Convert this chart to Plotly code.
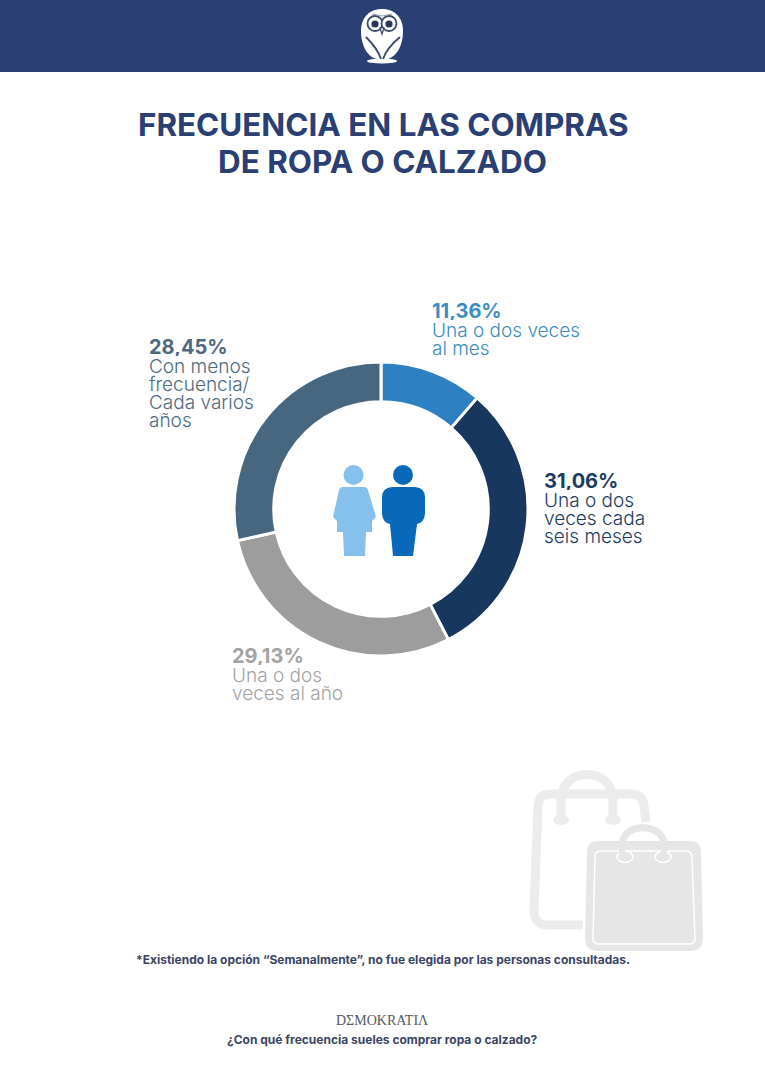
import plotly.graph_objects as go

# Survey results
categories = ["Una o dos veces al mes", "Una o dos veces cada seis meses",
              "Una o dos veces al año", "Con menos frecuencia/Cada varios años"]
shares = [11.36, 31.06, 29.13, 28.45]
slice_colors = ["#2d80c2", "#17375e", "#9d9d9d", "#46677f"]
value_colors = ["#3c8dc0", "#1d3a5f", "#a3a3a3", "#4d6a7f"]
label_lines = [["Una o dos veces", "al mes"],
               ["Una o dos", "veces cada", "seis meses"],
               ["Una o dos", "veces al año"],
               ["Con menos", "frecuencia/", "Cada varios", "años"]]
value_labels = ["11,36%", "31,06%", "29,13%", "28,45%"]

title_lines = ["FRECUENCIA EN LAS COMPRAS", "DE ROPA O CALZADO"]
footnote = "*Existiendo la opción “Semanalmente”, no fue elegida por las personas consultadas."
brand = "DΣMOKRATIΛ"
question = "¿Con qué frecuencia sueles comprar ropa o calzado?"

W, H = 765, 1080
NAVY = "#2a4075"
FONT = "Inter"
CX, CY, R = 381, 509, 147

fig = go.Figure()
fig.add_trace(go.Pie(
    labels=categories, values=shares, sort=False, direction="clockwise", rotation=0,
    hole=0.73, textinfo="none", hoverinfo="label+percent", showlegend=False,
    marker=dict(colors=slice_colors, line=dict(color="white", width=3)),
    domain=dict(x=[(CX - R) / W, (CX + R) / W], y=[1 - (CY + R) / H, 1 - (CY - R) / H]),
))

shapes = []


def path(d, fill="rgba(0,0,0,0)", line=None, width=0):
    shapes.append(dict(type="path", path=d, fillcolor=fill, xref="x", yref="y", layer="above",
                       line=dict(color=line or "rgba(0,0,0,0)", width=width)))


def circle(x, y, rx, ry=None, fill="white", line=None, width=0):
    ry = ry or rx
    shapes.append(dict(type="circle", x0=x - rx, x1=x + rx, y0=y - ry, y1=y + ry, fillcolor=fill,
                       xref="x", yref="y", layer="above",
                       line=dict(color=line or "rgba(0,0,0,0)", width=width)))


# Header band
shapes.append(dict(type="rect", x0=0, x1=W, y0=0, y1=72, xref="x", yref="y", layer="below",
                   fillcolor=NAVY, line=dict(width=0)))

# Owl emblem
path("M382,9 C393,9 403,16 403,31 C403,46 396,60 382,60 C368,60 361,46 361,31 C361,16 371,9 382,9 Z", fill="white")
circle(382, 61, 15, 2.5)
circle(375, 23.5, 7.5, fill="white", line="#3b4a6b", width=1.8)
circle(389, 23.5, 7.5, fill="white", line="#3b4a6b", width=1.8)
circle(375, 24, 3.6, fill="#26375f")
circle(389, 24, 3.6, fill="#26375f")
path("M366,37 C371,42 378,50 381,59", line="#3b4a6b", width=1.8)
path("M400,37 C394,42 386,50 383,59", line="#3b4a6b", width=1.8)
path("M380,28 L384,28 L382,34 Z", fill="white", line="#3b4a6b", width=1.2)
path("M372,14 L382,16 L392,14", line="#9aa3b8", width=1.2)

# Woman and man in the middle of the ring
circle(353.5, 475, 10, fill="#85c1ec")
path("M343,487 L364,487 Q367,487 368,490 L376,517 L372,521 L372,532 L366,532 L365,556 L344,556 "
     "L343,532 L337,532 L337,521 L333,517 L339,490 Q340,487 343,487 Z", fill="#85c1ec")
circle(403, 475, 10, fill="#0869ba")
path("M392,487 L415,487 Q425,488 425,497 L425,514 Q424,523 417,524 L413,556 L393,556 L390,524 "
     "Q383,523 382,514 L382,497 Q382,488 392,487 Z", fill="#0869ba")

# Shopping bags watermark
BAG = "#ececec"
path("M561,818 L561,800 C561,766 613,766 613,800 L613,818", line=BAG, width=9)
circle(561, 820, 8, 5, fill=BAG)
circle(613, 820, 8, 5, fill=BAG)
path("M646,822 L644,806 Q643,794 630,794 L550,794 Q539,794 538,806 L534,910 Q534,925 548,925 L583,925",
     line=BAG, width=9)
path("M622,850 L622,845 C622,822 664,822 664,845 L664,850", line="#e6e6e6", width=7)
path("M598,841 L690,841 Q701,841 701,852 L703,938 Q703,951 690,951 L598,951 Q585,951 585,938 "
     "L587,852 Q587,841 598,841 Z", fill="#e6e6e6")
path("M600,851 L686,851 Q692,851 692,857 L695,938 Q695,944 689,944 L599,944 Q593,944 593,938 "
     "L595,857 Q595,851 600,851 Z", fill="#e6e6e6", line="white", width=1.5)
circle(625, 857, 8, 5.5, fill="#e6e6e6", line="white", width=1.5)
circle(663, 857, 8, 5.5, fill="#e6e6e6", line="white", width=1.5)
path("M622,857 L622,845 C622,822 664,822 664,845 L664,857", line="#e6e6e6", width=6)

annotations = []


def text(x, y, s, size, color, anchor="left", family=FONT, weight=None, box=None):
    font = dict(family=family, size=size, color=color)
    if weight:
        font["weight"] = weight
    item = dict(x=x, y=y, xref="x", yref="y", text=s, showarrow=False, xanchor=anchor,
                yanchor="middle", align=anchor, borderpad=0, font=font)
    if box:
        item["height"] = box
    annotations.append(item)


# Title
text(382.5, 125, f"<b>{title_lines[0]}</b>", 31.4, NAVY, "center")
text(382.5, 162, f"<b>{title_lines[1]}</b>", 31.4, NAVY, "center")

# Value labels beside each slice: column x, first line y
label_x = [431, 543, 231, 148]
label_y = [311, 481, 656, 347]
for vx, vy, value, lines, col in zip(label_x, label_y, value_labels, label_lines, value_colors):
    text(vx, vy, f"<b>{value}</b>", 20, col, box=18)
    for i, line in enumerate(lines):
        text(vx, vy + 18.5 + 18 * i, line, 19, col, weight=300, box=18)

# Footer
text(382.5, 959, f"<b>{footnote}</b>", 12, "#3a4566", "center")
text(382.5, 1020, brand, 14, "#555a66", "center", "Liberation Serif")
text(382.5, 1039, f"<b>{question}</b>", 12, "#3a4566", "center")

fig.update_layout(
    width=W, height=H, margin=dict(l=0, r=0, t=0, b=0),
    paper_bgcolor="white", plot_bgcolor="rgba(0,0,0,0)",
    xaxis=dict(range=[0, W], visible=False, fixedrange=True),
    yaxis=dict(range=[H, 0], visible=False, fixedrange=True),
    shapes=shapes, annotations=annotations,
)
fig.write_html("out.html")
